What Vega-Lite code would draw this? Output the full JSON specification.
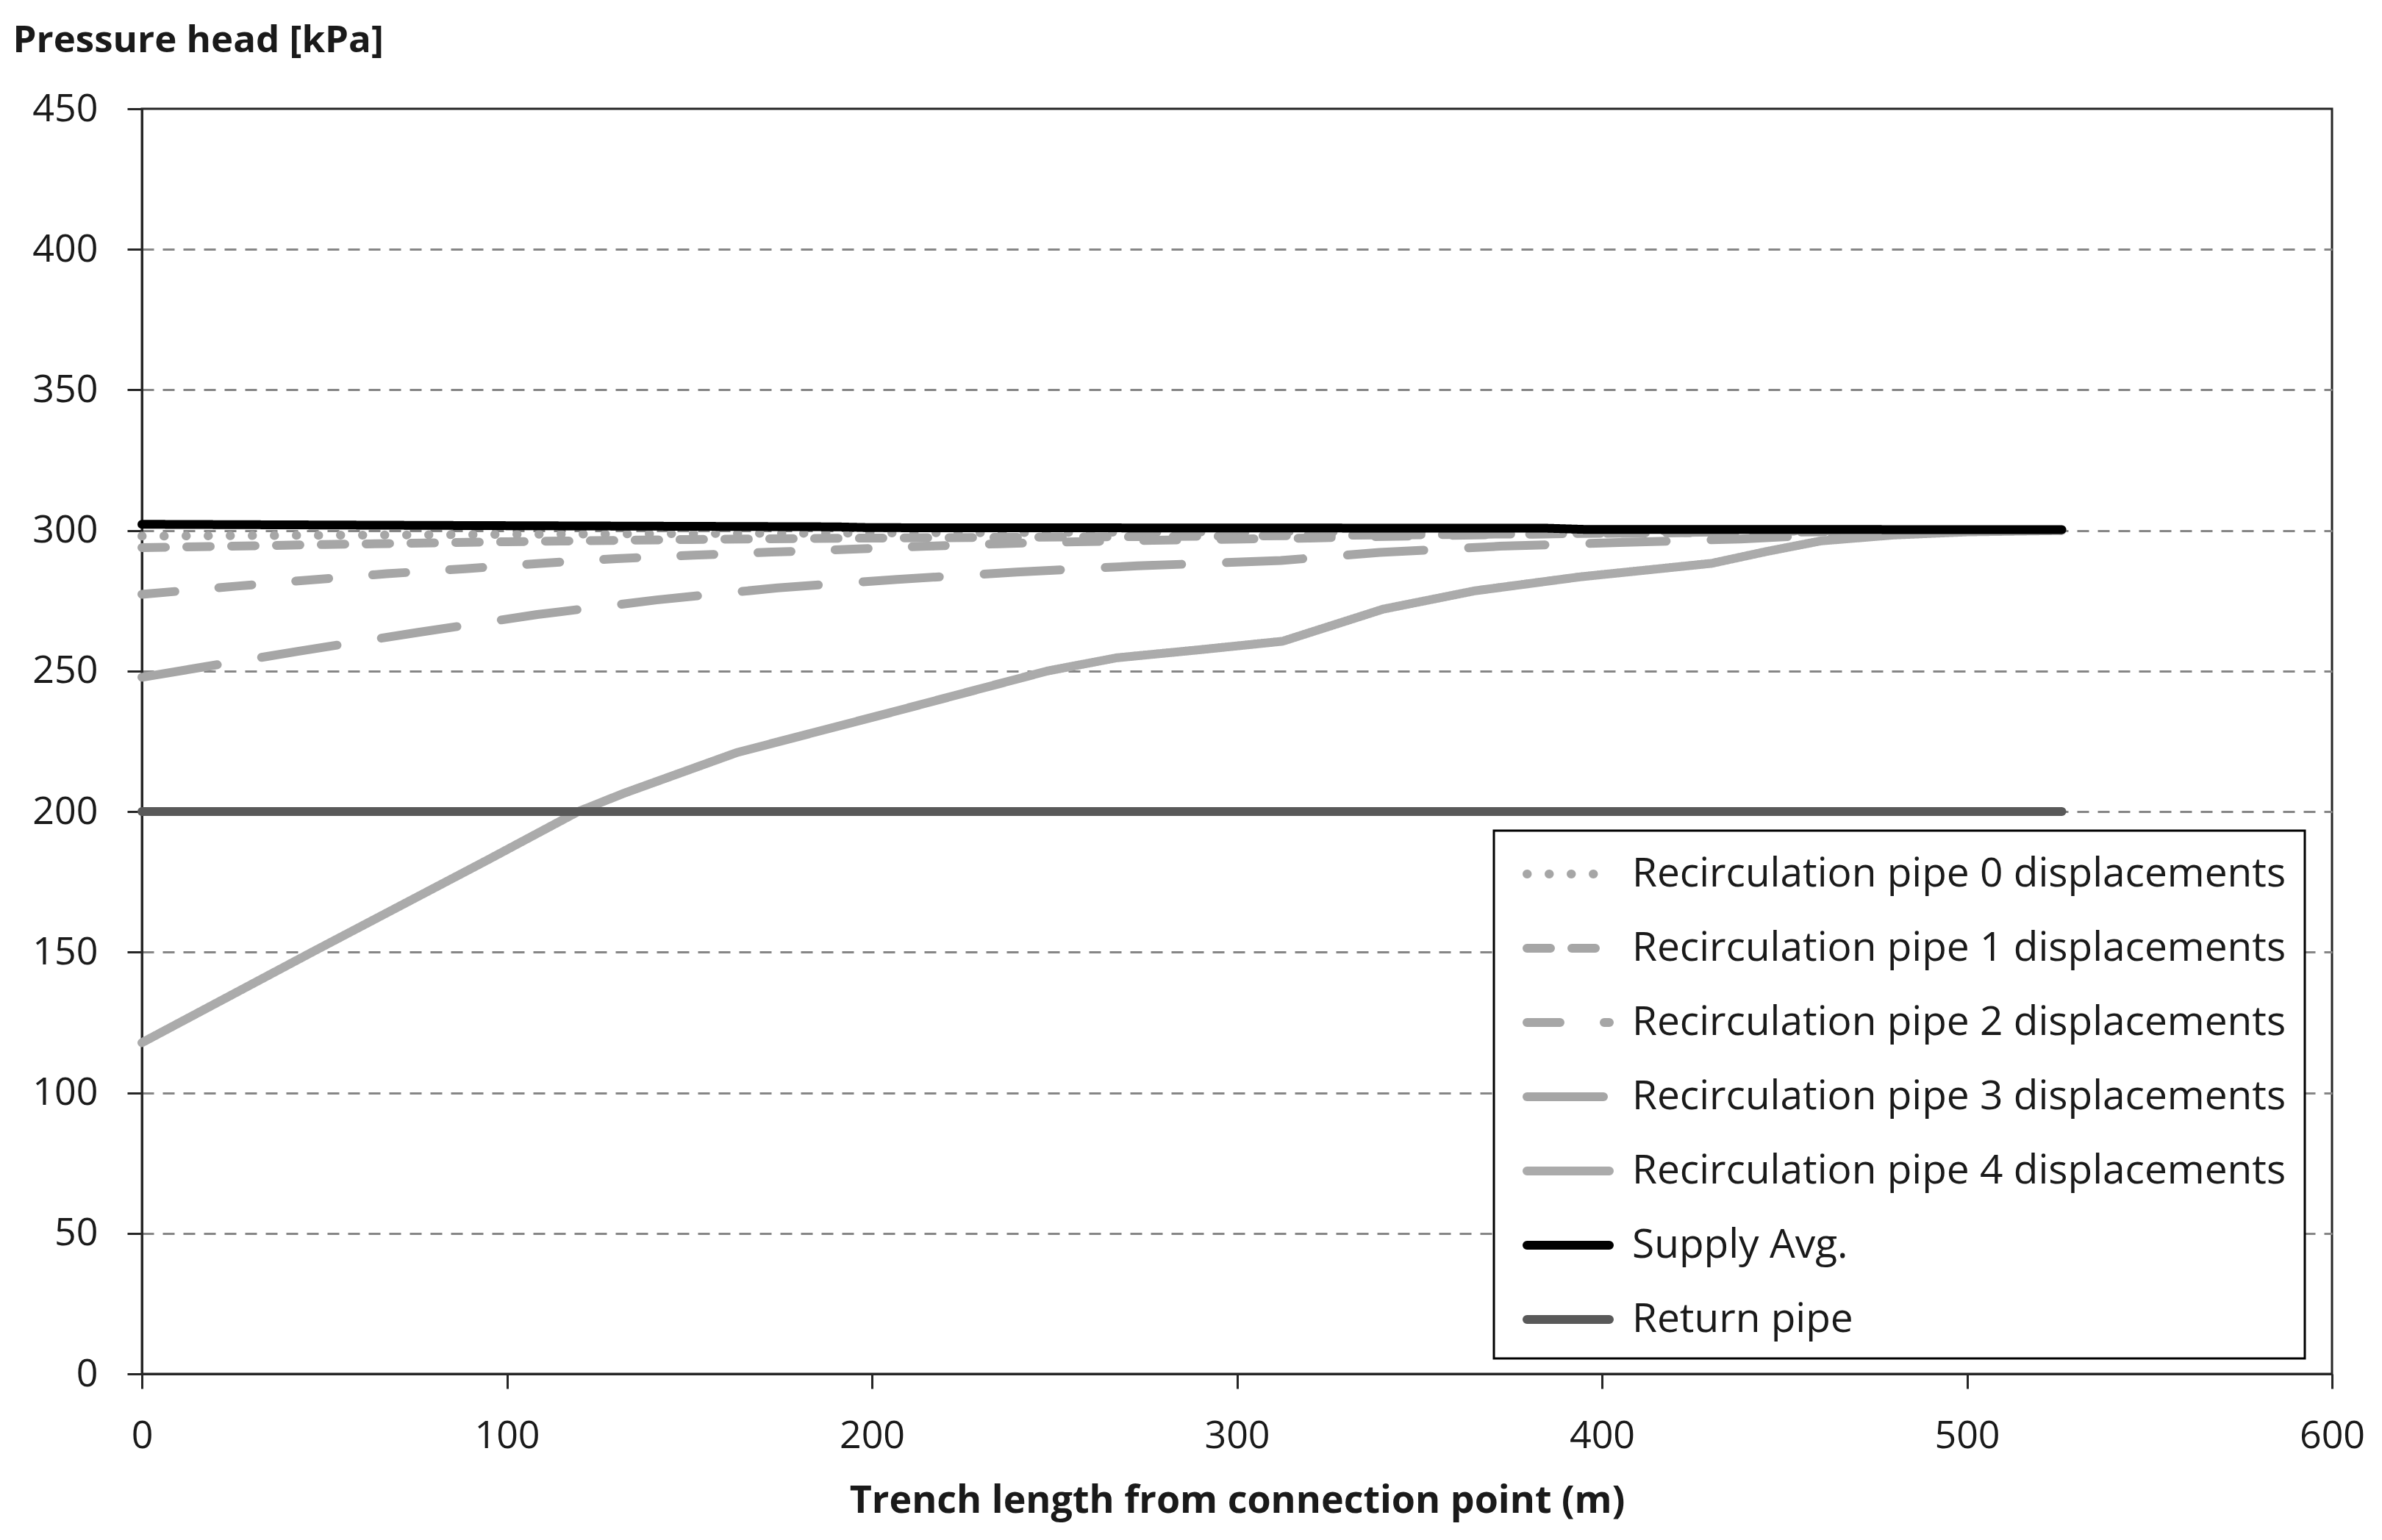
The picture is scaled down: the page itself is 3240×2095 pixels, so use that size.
{
  "$schema": "https://vega.github.io/schema/vega-lite/v6.json",
  "autosize": "none",
  "width": 2979,
  "height": 1721,
  "padding": {"left": 193, "top": 148, "right": 68, "bottom": 226},
  "background": "white",
  "config": {
    "view": {"stroke": "#262626", "strokeWidth": 3},
    "font": "Open Sans"
  },
  "data": {
    "values": [
      {"series": "Recirculation pipe 0 displacements", "m": 0, "kPa": 298.0},
      {"series": "Recirculation pipe 0 displacements", "m": 50, "kPa": 298.3},
      {"series": "Recirculation pipe 0 displacements", "m": 100, "kPa": 298.6},
      {"series": "Recirculation pipe 0 displacements", "m": 150, "kPa": 298.9},
      {"series": "Recirculation pipe 0 displacements", "m": 200, "kPa": 299.1},
      {"series": "Recirculation pipe 0 displacements", "m": 250, "kPa": 299.3},
      {"series": "Recirculation pipe 0 displacements", "m": 300, "kPa": 299.5},
      {"series": "Recirculation pipe 0 displacements", "m": 350, "kPa": 299.7},
      {"series": "Recirculation pipe 0 displacements", "m": 400, "kPa": 299.9},
      {"series": "Recirculation pipe 0 displacements", "m": 450, "kPa": 300.0},
      {"series": "Recirculation pipe 0 displacements", "m": 526, "kPa": 300.0},

      {"series": "Recirculation pipe 1 displacements", "m": 0, "kPa": 293.9},
      {"series": "Recirculation pipe 1 displacements", "m": 50, "kPa": 295.0},
      {"series": "Recirculation pipe 1 displacements", "m": 100, "kPa": 296.0},
      {"series": "Recirculation pipe 1 displacements", "m": 150, "kPa": 296.8},
      {"series": "Recirculation pipe 1 displacements", "m": 200, "kPa": 297.3},
      {"series": "Recirculation pipe 1 displacements", "m": 300, "kPa": 298.0},
      {"series": "Recirculation pipe 1 displacements", "m": 400, "kPa": 299.0},
      {"series": "Recirculation pipe 1 displacements", "m": 500, "kPa": 299.8},
      {"series": "Recirculation pipe 1 displacements", "m": 526, "kPa": 300.0},

      {"series": "Recirculation pipe 2 displacements", "m": 0, "kPa": 277.3},
      {"series": "Recirculation pipe 2 displacements", "m": 26, "kPa": 280.2},
      {"series": "Recirculation pipe 2 displacements", "m": 46, "kPa": 282.4},
      {"series": "Recirculation pipe 2 displacements", "m": 67, "kPa": 284.6},
      {"series": "Recirculation pipe 2 displacements", "m": 88.5, "kPa": 286.4},
      {"series": "Recirculation pipe 2 displacements", "m": 109, "kPa": 288.3},
      {"series": "Recirculation pipe 2 displacements", "m": 130, "kPa": 290.0},
      {"series": "Recirculation pipe 2 displacements", "m": 151, "kPa": 291.2},
      {"series": "Recirculation pipe 2 displacements", "m": 172.5, "kPa": 292.3},
      {"series": "Recirculation pipe 2 displacements", "m": 193.6, "kPa": 293.3},
      {"series": "Recirculation pipe 2 displacements", "m": 215, "kPa": 294.4},
      {"series": "Recirculation pipe 2 displacements", "m": 235, "kPa": 295.3},
      {"series": "Recirculation pipe 2 displacements", "m": 256, "kPa": 296.0},
      {"series": "Recirculation pipe 2 displacements", "m": 277, "kPa": 296.5},
      {"series": "Recirculation pipe 2 displacements", "m": 299, "kPa": 296.9},
      {"series": "Recirculation pipe 2 displacements", "m": 320, "kPa": 297.3},
      {"series": "Recirculation pipe 2 displacements", "m": 341, "kPa": 297.9},
      {"series": "Recirculation pipe 2 displacements", "m": 380, "kPa": 298.7},
      {"series": "Recirculation pipe 2 displacements", "m": 420, "kPa": 299.3},
      {"series": "Recirculation pipe 2 displacements", "m": 460, "kPa": 299.9},
      {"series": "Recirculation pipe 2 displacements", "m": 526, "kPa": 300.0},

      {"series": "Recirculation pipe 3 displacements", "m": 0, "kPa": 247.8},
      {"series": "Recirculation pipe 3 displacements", "m": 42.7, "kPa": 257.0},
      {"series": "Recirculation pipe 3 displacements", "m": 75.4, "kPa": 263.7},
      {"series": "Recirculation pipe 3 displacements", "m": 108.3, "kPa": 270.1},
      {"series": "Recirculation pipe 3 displacements", "m": 141, "kPa": 275.3},
      {"series": "Recirculation pipe 3 displacements", "m": 174.2, "kPa": 279.6},
      {"series": "Recirculation pipe 3 displacements", "m": 206.9, "kPa": 282.6},
      {"series": "Recirculation pipe 3 displacements", "m": 239.6, "kPa": 285.2},
      {"series": "Recirculation pipe 3 displacements", "m": 272.8, "kPa": 287.4},
      {"series": "Recirculation pipe 3 displacements", "m": 312, "kPa": 289.3},
      {"series": "Recirculation pipe 3 displacements", "m": 339.1, "kPa": 292.2},
      {"series": "Recirculation pipe 3 displacements", "m": 372, "kPa": 294.4},
      {"series": "Recirculation pipe 3 displacements", "m": 404.7, "kPa": 295.7},
      {"series": "Recirculation pipe 3 displacements", "m": 438, "kPa": 297.0},
      {"series": "Recirculation pipe 3 displacements", "m": 470, "kPa": 299.0},
      {"series": "Recirculation pipe 3 displacements", "m": 500, "kPa": 300.0},
      {"series": "Recirculation pipe 3 displacements", "m": 526, "kPa": 300.0},

      {"series": "Recirculation pipe 4 displacements", "m": 0, "kPa": 117.8},
      {"series": "Recirculation pipe 4 displacements", "m": 46.6, "kPa": 150.0},
      {"series": "Recirculation pipe 4 displacements", "m": 95, "kPa": 183.0},
      {"series": "Recirculation pipe 4 displacements", "m": 119.5, "kPa": 200.0},
      {"series": "Recirculation pipe 4 displacements", "m": 132, "kPa": 206.5},
      {"series": "Recirculation pipe 4 displacements", "m": 163, "kPa": 221.0},
      {"series": "Recirculation pipe 4 displacements", "m": 204.7, "kPa": 235.1},
      {"series": "Recirculation pipe 4 displacements", "m": 248, "kPa": 250.0},
      {"series": "Recirculation pipe 4 displacements", "m": 267, "kPa": 254.7},
      {"series": "Recirculation pipe 4 displacements", "m": 290, "kPa": 257.6},
      {"series": "Recirculation pipe 4 displacements", "m": 312.5, "kPa": 260.6},
      {"series": "Recirculation pipe 4 displacements", "m": 340, "kPa": 272.0},
      {"series": "Recirculation pipe 4 displacements", "m": 365, "kPa": 278.5},
      {"series": "Recirculation pipe 4 displacements", "m": 394, "kPa": 283.5},
      {"series": "Recirculation pipe 4 displacements", "m": 430, "kPa": 288.3},
      {"series": "Recirculation pipe 4 displacements", "m": 445, "kPa": 292.5},
      {"series": "Recirculation pipe 4 displacements", "m": 460, "kPa": 296.3},
      {"series": "Recirculation pipe 4 displacements", "m": 480, "kPa": 298.4},
      {"series": "Recirculation pipe 4 displacements", "m": 500, "kPa": 299.5},
      {"series": "Recirculation pipe 4 displacements", "m": 526, "kPa": 300.0},

      {"series": "Supply Avg.", "m": 0, "kPa": 302.2},
      {"series": "Supply Avg.", "m": 80, "kPa": 301.8},
      {"series": "Supply Avg.", "m": 190, "kPa": 301.3},
      {"series": "Supply Avg.", "m": 200, "kPa": 301.0},
      {"series": "Supply Avg.", "m": 385, "kPa": 300.8},
      {"series": "Supply Avg.", "m": 395, "kPa": 300.4},
      {"series": "Supply Avg.", "m": 526, "kPa": 300.3},

      {"series": "Return pipe", "m": 0, "kPa": 200.0},
      {"series": "Return pipe", "m": 526, "kPa": 200.0}
    ]
  },
  "mark": {"type": "line", "strokeWidth": 12, "strokeCap": "round", "strokeJoin": "round"},
  "encoding": {
    "x": {
      "field": "m",
      "type": "quantitative",
      "scale": {"domain": [0, 600], "nice": false, "zero": false},
      "axis": {
        "title": "Trench length from connection point (m)",
        "values": [0, 100, 200, 300, 400, 500, 600],
        "grid": false,
        "domainColor": "#262626",
        "domainWidth": 3,
        "tickColor": "#262626",
        "tickWidth": 3,
        "tickSize": 20,
        "labelFont": "Open Sans",
        "labelFontSize": 52,
        "labelColor": "#1a1a1a",
        "labelPadding": 39,
        "labelFlush": false,
        "titleFont": "Open Sans",
        "titleFontSize": 52,
        "titleFontWeight": "bold",
        "titleColor": "#1a1a1a",
        "titleBaseline": "alphabetic",
        "titleY": 188
      }
    },
    "y": {
      "field": "kPa",
      "type": "quantitative",
      "scale": {"domain": [0, 450], "nice": false, "zero": false},
      "axis": {
        "title": "Pressure head [kPa]",
        "values": [0, 50, 100, 150, 200, 250, 300, 350, 400, 450],
        "grid": true,
        "gridColor": "#868686",
        "gridDash": [16, 12],
        "gridWidth": 3,
        "gridOpacity": {"condition": {"test": "datum.value === 0 || datum.value === 450", "value": 0}, "value": 1},
        "domainColor": "#262626",
        "domainWidth": 3,
        "tickColor": "#262626",
        "tickWidth": 3,
        "tickSize": 20,
        "labelFont": "Open Sans",
        "labelFontSize": 52,
        "labelColor": "#1a1a1a",
        "labelPadding": 40,
        "titleFont": "Open Sans",
        "titleFontSize": 51,
        "titleFontWeight": "bold",
        "titleColor": "#1a1a1a",
        "titleAngle": 0,
        "titleAlign": "left",
        "titleBaseline": "alphabetic",
        "titleX": -176,
        "titleY": -78
      }
    },
    "color": {
      "field": "series",
      "type": "nominal",
      "scale": {
        "domain": ["Recirculation pipe 0 displacements", "Recirculation pipe 1 displacements", "Recirculation pipe 2 displacements", "Recirculation pipe 3 displacements", "Recirculation pipe 4 displacements", "Supply Avg.", "Return pipe"],
        "range": ["#A6A6A6", "#A6A6A6", "#A6A6A6", "#A6A6A6", "#ABABAB", "#000000", "#595959"]
      },
      "legend": {
        "title": null,
        "orient": "none",
        "legendX": 1839,
        "legendY": 982,
        "padding": 25,
        "strokeColor": "#000000",
        "fillColor": "#ffffff",
        "symbolType": "M-2,0L2,0",
        "symbolSize": 3136,
        "symbolStrokeWidth": 12,
        "symbolOffset": 42,
        "labelOffset": 53,
        "rowPadding": 39,
        "labelFont": "Open Sans",
        "labelFontSize": 55,
        "labelColor": "#1a1a1a",
        "labelLimit": 2000,
        "encode": {
          "symbols": {"update": {"strokeCap": {"value": "round"}}},
          "legend": {"update": {"strokeWidth": {"value": 3}}}
        }
      }
    },
    "strokeDash": {
      "field": "series",
      "type": "nominal",
      "scale": {
        "domain": ["Recirculation pipe 0 displacements", "Recirculation pipe 1 displacements", "Recirculation pipe 2 displacements", "Recirculation pipe 3 displacements", "Recirculation pipe 4 displacements", "Supply Avg.", "Return pipe"],
        "range": [[0.5, 29.5], [32, 29], [45, 60], [104, 61], [1, 0], [1, 0], [1, 0]]
      },
      "legend": {
        "title": null,
        "orient": "none",
        "legendX": 1839,
        "legendY": 982
      }
    }
  }
}
